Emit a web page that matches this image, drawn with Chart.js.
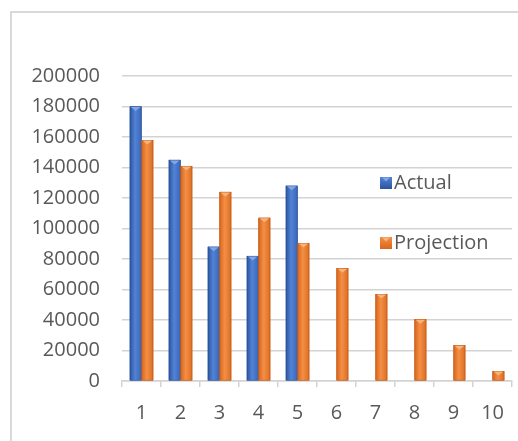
<!DOCTYPE html>
<html>
<head>
<meta charset="utf-8">
<script src="https://cdn.jsdelivr.net/npm/chart.js@4"></script>
<style>
  html, body { margin: 0; padding: 0; background: #ffffff; }
  #wrap { position: relative; width: 518px; height: 441px; }
</style>
</head>
<body>
<div id="wrap"><canvas id="chart" width="518" height="441"></canvas></div>
<script>
// Periods and series
const categories = ['1', '2', '3', '4', '5', '6', '7', '8', '9', '10'];
const actual = [180000, 145000, 88000, 82000, 128000, null, null, null, null, null];
const projection = [158000, 141000, 124000, 107000, 90500, 74000, 57000, 40500, 23500, 6500];
const yTicks = [0, 20000, 40000, 60000, 80000, 100000, 120000, 140000, 160000, 180000, 200000];

const FONT = '"Open Sans", "Noto Sans", sans-serif';
const TEXT = '#595959';
const GRID = '#d3d3d3';

// Shading stops for each series: edge, centre, edge
const shades = [
  { base: '#4472c4', stops: ['#2c549e', '#5283d6', '#3a66b8'], cap: '#82a6e4', line: '#2a4f91' },
  { base: '#ed7d31', stops: ['#d9661c', '#f38f45', '#dc6d22'], cap: '#f6b47c', line: '#b9561a' }
];

// White page with a light frame along the top and left
const framePlugin = {
  id: 'frame',
  beforeDraw(chart) {
    const c = chart.ctx;
    c.save();
    c.fillStyle = '#ffffff';
    c.fillRect(0, 0, chart.width, chart.height);
    c.strokeStyle = '#d9d9d9';
    c.lineWidth = 2;
    c.beginPath();
    c.moveTo(11, chart.height);
    c.lineTo(11, 12);
    c.lineTo(chart.width, 12);
    c.stroke();
    c.restore();
  }
};

// Repaint each bar with a horizontal bevel gradient and a small cap
const bevelPlugin = {
  id: 'bevel',
  afterDatasetsDraw(chart) {
    const c = chart.ctx;
    chart.data.datasets.forEach((ds, di) => {
      const meta = chart.getDatasetMeta(di);
      const s = shades[di];
      meta.data.forEach((bar, i) => {
        if (ds.data[i] == null) return;
        const p = bar.getProps(['x', 'y', 'base', 'width'], true);
        const left = p.x - p.width / 2;
        const top = p.y;
        const h = p.base - p.y;
        if (h <= 0) return;
        const g = c.createLinearGradient(left, 0, left + p.width, 0);
        g.addColorStop(0, s.stops[0]);
        g.addColorStop(0.45, s.stops[1]);
        g.addColorStop(1, s.stops[2]);
        c.save();
        c.fillStyle = g;
        c.fillRect(left, top, p.width, h);
        c.strokeStyle = s.line;
        c.lineWidth = 0.6;
        c.strokeRect(left + 0.3, top + 0.3, p.width - 0.6, h - 0.3);
        // bevel cap
        const capH = Math.min(4, h);
        c.fillStyle = s.cap;
        c.beginPath();
        c.moveTo(left + 1, top + 0.5);
        c.lineTo(left + p.width - 1, top + 0.5);
        c.lineTo(p.x, top + capH + 0.5);
        c.closePath();
        c.fill();
        c.restore();
      });
    });
  }
};

// Legend items placed inside the plot, on the right
const sideLegendPlugin = {
  id: 'sideLegend',
  afterDraw(chart) {
    const c = chart.ctx;
    const spots = [183, 243];
    c.save();
    c.font = '20px ' + FONT;
    c.textBaseline = 'middle';
    c.textAlign = 'left';
    chart.data.datasets.forEach((ds, di) => {
      const s = shades[di];
      const y = spots[di];
      const x = 380;
      const g = c.createLinearGradient(x, y - 6, x, y + 6);
      g.addColorStop(0, s.stops[1]);
      g.addColorStop(1, s.stops[0]);
      c.fillStyle = g;
      c.fillRect(x, y - 6, 12, 12);
      c.fillStyle = s.cap;
      c.beginPath();
      c.moveTo(x + 2, y - 5.5);
      c.lineTo(x + 10, y - 5.5);
      c.lineTo(x + 6, y - 1.5);
      c.closePath();
      c.fill();
      c.fillStyle = TEXT;
      c.fillText(ds.label, x + 14, y);
    });
    c.restore();
  }
};

new Chart(document.getElementById('chart'), {
  type: 'bar',
  data: {
    labels: categories,
    datasets: [
      { label: 'Actual', data: actual, backgroundColor: shades[0].base },
      { label: 'Projection', data: projection, backgroundColor: shades[1].base }
    ]
  },
  options: {
    responsive: false,
    animation: false,
    devicePixelRatio: 1,
    layout: { padding: { left: 0, right: 0, top: 76, bottom: 0 } },
    datasets: { bar: { barPercentage: 1, categoryPercentage: 0.6 } },
    plugins: {
      legend: { display: false },
      tooltip: { enabled: false }
    },
    scales: {
      x: {
        grid: { drawOnChartArea: false, drawTicks: true, tickLength: 6, color: GRID, lineWidth: 1.5, offset: true },
        border: { display: true, color: GRID, width: 1.5 },
        ticks: { color: TEXT, font: { family: FONT, size: 20 }, padding: 14, maxRotation: 0 },
        afterFit(scale) { scale.height = 60; }
      },
      y: {
        min: 0,
        max: 200000,
        afterBuildTicks(scale) { scale.ticks = yTicks.map(v => ({ value: v })); },
        grid: { color: GRID, lineWidth: 1.5, drawTicks: false },
        border: { display: false },
        ticks: {
          color: TEXT,
          font: { family: FONT, size: 20 },
          padding: 22,
          callback: (v) => String(v)
        },
        afterFit(scale) { scale.width = 122; }
      }
    }
  },
  plugins: [framePlugin, bevelPlugin, sideLegendPlugin]
});
</script>
</body>
</html>
